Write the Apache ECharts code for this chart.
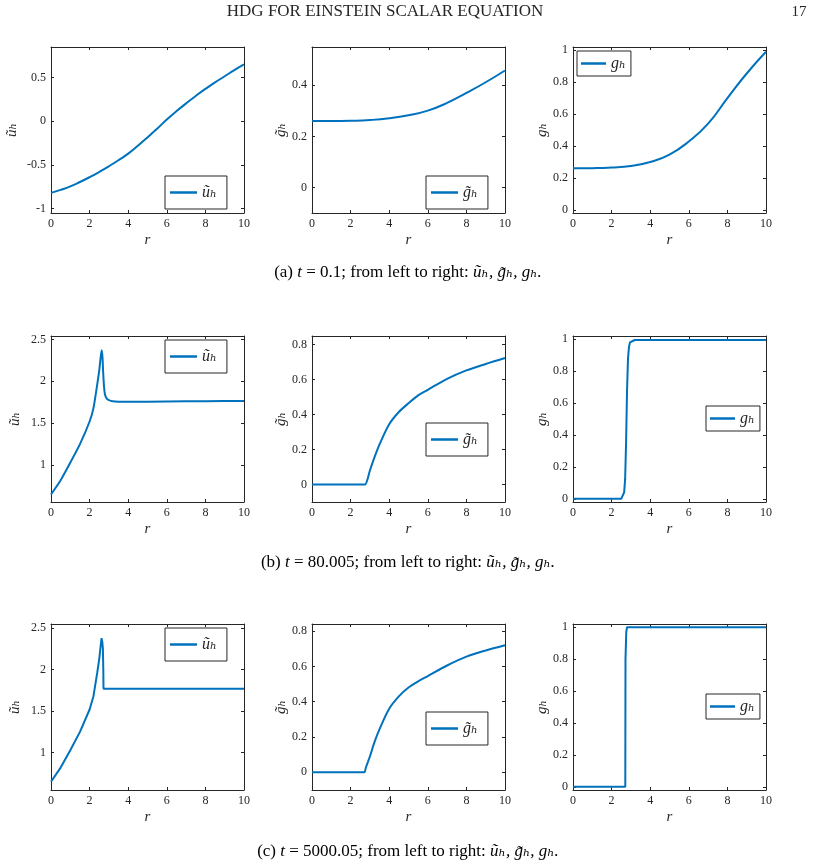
<!DOCTYPE html>
<html>
<head>
<meta charset="utf-8">
<script src="https://cdn.jsdelivr.net/npm/echarts@6/dist/echarts.min.js"></script>
<style>
html,body{margin:0;padding:0;background:#fff;}
#c{width:814px;height:865px;}
</style>
</head>
<body>
<div id="c"></div>
<script>
// ---------- DATA ----------
// (a) t = 0.1
const r_a_u = [0,0.5,1,1.5,2,2.5,3,3.5,4,4.5,5,5.5,6,6.5,7,7.5,8,8.5,9,9.5,10];
const u_a   = [-0.82,-0.785,-0.745,-0.695,-0.64,-0.58,-0.515,-0.445,-0.37,-0.28,-0.185,-0.085,0.02,0.115,0.205,0.29,0.37,0.445,0.515,0.585,0.65];
const r_a_g = [0,1,2,3,4,5,6,7,8,9,10];
const gt_a  = [0.26,0.26,0.261,0.264,0.271,0.283,0.301,0.331,0.37,0.412,0.458];
const g_a   = [0.26,0.261,0.265,0.275,0.30,0.346,0.428,0.54,0.70,0.854,0.99];
// (b) t = 80.005
const r_b_u = [0,0.5,1,1.5,2,2.2,2.4,2.5,2.58,2.63,2.67,2.7,2.75,2.8,2.9,3.0,3.2,3.5,4,6,8,10];
const u_b   = [0.65,0.82,1.03,1.25,1.52,1.68,1.97,2.13,2.30,2.37,2.28,2.12,1.93,1.84,1.79,1.775,1.762,1.757,1.755,1.760,1.763,1.765];
const r_b_gt = [0,2.7,2.75,2.85,3,3.25,3.5,4,4.5,5,5.5,6,7,8,9,10];
const gt_b   = [0,0,0,0.02,0.08,0.16,0.23,0.345,0.415,0.465,0.51,0.542,0.605,0.653,0.69,0.724];
const r_b_g = [0,2.5,2.58,2.65,2.7,2.75,2.8,2.85,2.9,2.95,3.0,3.2,10];
const g_b   = [0,0,0.01,0.04,0.12,0.35,0.68,0.88,0.95,0.98,0.99,0.995,0.995];
// (c) t = 5000.05
const r_c_u = [0,0.5,1,1.5,2,2.2,2.4,2.5,2.58,2.62,2.66,2.69,2.71,2.72,2.74,2.77,2.8,3,6,10];
const u_c   = [0.65,0.82,1.03,1.25,1.52,1.68,1.97,2.13,2.30,2.38,2.33,2.25,2.0,1.77,1.75,1.77,1.77,1.77,1.77,1.77];
const r_c_gt = [0,2.68,2.72,2.8,3,3.25,3.5,4,4.5,5,5.5,6,7,8,9,10];
const gt_c   = [0,0,0,0.03,0.09,0.175,0.245,0.36,0.43,0.48,0.515,0.545,0.605,0.655,0.69,0.72];
const r_c_g = [0,2.71,2.72,2.76,2.8,10];
const g_c   = [0,0,0.8,0.97,1.0,1.0];

// tick labels
const xTicks = [0,2,4,6,8,10];
const yTicks_u_a = [-1,-0.5,0,0.5];
const yTicks_gt_a = [0,0.2,0.4];
const yTicks_g = [0,0.2,0.4,0.6,0.8,1];
const yTicks_u_bc = [1,1.5,2,2.5];
const yTicks_gt_bc = [0,0.2,0.4,0.6,0.8];

// labels
const name_u = 'ũₕ';
const name_gt = 'g̃ₕ';
const name_g = 'gₕ';
const captions = [
  ['(a) ', 't', ' = 0.1; from left to right: ', 'ũₕ, g̃ₕ, gₕ.'],
  ['(b) ', 't', ' = 80.005; from left to right: ', 'ũₕ, g̃ₕ, gₕ.'],
  ['(c) ', 't', ' = 5000.05; from left to right: ', 'ũₕ, g̃ₕ, gₕ.']
];

// ---------- LAYOUT ----------
const FONT = '"Liberation Serif","DejaVu Serif",serif';
const DARK = '#262626';
const BLUE = '#0072BD';
const colLeft = [51, 312, 573];
const rowTop = [47, 336, 624];
const W = 193, H = 166;

const pair = (xs, ys) => xs.map((x, i) => [x, ys[i]]);

const plots = [
  {xs:r_a_u, ys:u_a, label:name_u, min:-1.05, max:0.85, ticks:yTicks_u_a, smooth:0.5, leg:[165,176], gap:31},
  {xs:r_a_g, ys:gt_a, label:name_gt, min:-0.1, max:0.55, ticks:yTicks_gt_a, smooth:0.5, leg:[426,176], gap:22},
  {xs:r_a_g, ys:g_a, label:name_g, min:-0.02, max:1.02, ticks:yTicks_g, smooth:0.5, leg:[577,51], gap:22},
  {xs:r_b_u, ys:u_b, label:name_u, min:0.56, max:2.54, ticks:yTicks_u_bc, smooth:0.2, leg:[165,340], gap:28},
  {xs:r_b_gt, ys:gt_b, label:name_gt, min:-0.1, max:0.85, ticks:yTicks_gt_bc, smooth:0.3, leg:[426,423], gap:22},
  {xs:r_b_g, ys:g_b, label:name_g, min:-0.02, max:1.02, ticks:yTicks_g, smooth:false, leg:[706,406], gap:22},
  {xs:r_c_u, ys:u_c, label:name_u, min:0.55, max:2.55, ticks:yTicks_u_bc, smooth:false, leg:[165,628], gap:28},
  {xs:r_c_gt, ys:gt_c, label:name_gt, min:-0.1, max:0.84, ticks:yTicks_gt_bc, smooth:0.3, leg:[426,712], gap:22},
  {xs:r_c_g, ys:g_c, label:name_g, min:-0.02, max:1.02, ticks:yTicks_g, smooth:false, leg:[706,694], gap:22}
];

const grid = [], xAxis = [], yAxis = [], series = [], legend = [];
const displayName = {};

plots.forEach((p, i) => {
  const row = Math.floor(i / 3), col = i % 3;
  grid.push({left: colLeft[col], top: rowTop[row], width: W, height: H, show: false});
  const lineStyle = {color: DARK, width: 1};
  const tickStyle = {inside: true, length: 3, lineStyle: {color: DARK, width: 1}};
  xAxis.push({
    type: 'value', gridIndex: i, min: 0, max: 10, interval: 2, position: 'bottom',
    axisLine: {show: true, onZero: false, lineStyle},
    axisTick: Object.assign({show: true}, tickStyle),
    axisLabel: {show: true, margin: 5, fontFamily: FONT, fontSize: 12, color: DARK},
    splitLine: {show: false},
    name: 'r', nameLocation: 'middle', nameGap: 20,
    nameTextStyle: {fontFamily: FONT, fontStyle: 'italic', fontSize: 15, color: DARK}
  });
  xAxis.push({
    type: 'value', gridIndex: i, min: 0, max: 10, interval: 2, position: 'top',
    axisLine: {show: true, onZero: false, lineStyle},
    axisTick: Object.assign({show: true}, tickStyle),
    axisLabel: {show: false}, splitLine: {show: false}
  });
  yAxis.push({
    type: 'value', gridIndex: i, min: p.min, max: p.max, position: 'left',
    axisLine: {show: true, onZero: false, lineStyle},
    axisTick: Object.assign({show: true, customValues: p.ticks}, tickStyle),
    axisLabel: {show: true, customValues: p.ticks, margin: 5, fontFamily: FONT, fontSize: 12, color: DARK},
    splitLine: {show: false},
    name: p.label, nameLocation: 'middle', nameGap: p.gap,
    nameTextStyle: {fontFamily: FONT, fontStyle: 'italic', fontSize: 15, color: DARK}
  });
  yAxis.push({
    type: 'value', gridIndex: i, min: p.min, max: p.max, position: 'right',
    axisLine: {show: true, onZero: false, lineStyle},
    axisTick: Object.assign({show: true, customValues: p.ticks}, tickStyle),
    axisLabel: {show: false}, splitLine: {show: false}
  });
  const sname = 's' + i;
  displayName[sname] = p.label;
  series.push({
    name: sname, type: 'line', xAxisIndex: 2 * i, yAxisIndex: 2 * i,
    data: pair(p.xs, p.ys), symbol: 'none', showSymbol: false,
    smooth: p.smooth,
    lineStyle: {color: BLUE, width: 2}, itemStyle: {color: BLUE},
    animation: false
  });
  const small = (col === 2);
  legend.push({
    data: [{name: sname, icon: 'rect'}], left: p.leg[0], top: p.leg[1],
    orient: 'vertical',
    padding: small ? [4, 5, 4, 4] : [8, 10, 8, 5],
    itemWidth: small ? 25 : 27, itemHeight: 2.5, itemGap: 0,
    borderColor: DARK, borderWidth: 1, backgroundColor: '#fff',
    selectedMode: false,
    itemStyle: {color: BLUE},
    formatter: n => displayName[n],
    textStyle: {fontFamily: FONT, fontStyle: 'italic', fontSize: 16, lineHeight: 17, color: DARK}
  });
});

const capRich = {
  n: {fontFamily: FONT, fontSize: 17, color: DARK},
  i: {fontFamily: FONT, fontSize: 17, fontStyle: 'italic', color: DARK}
};
const capY = [273, 563, 852];
const graphic = [
  {type: 'text', x: 385, y: 12, style: {text: 'HDG FOR EINSTEIN SCALAR EQUATION', font: '17px ' + FONT, fill: DARK, align: 'center', verticalAlign: 'middle'}},
  {type: 'text', x: 799, y: 12, style: {text: '17', font: '15px ' + FONT, fill: DARK, align: 'center', verticalAlign: 'middle'}}
];
captions.forEach((c, k) => {
  graphic.push({
    type: 'text', x: 408, y: capY[k],
    style: {
      text: '{n|' + c[0] + '}{i|' + c[1] + '}{n|' + c[2] + '}{i|' + c[3] + '}',
      rich: capRich, align: 'center', verticalAlign: 'middle'
    }
  });
});

const chart = echarts.init(document.getElementById('c'), null, {renderer: 'canvas'});
chart.setOption({
  animation: false,
  backgroundColor: '#fff',
  grid, xAxis, yAxis, series, legend, graphic
});
</script>
</body>
</html>
